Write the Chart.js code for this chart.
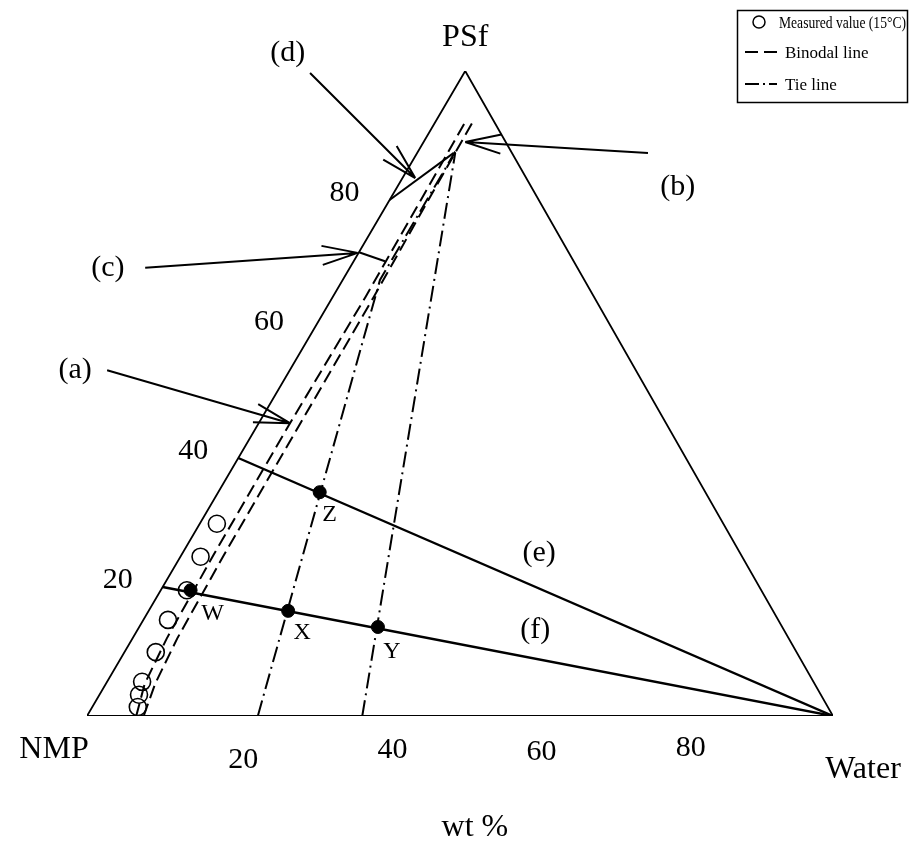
<!DOCTYPE html>
<html>
<head>
<meta charset="utf-8">
<script src="https://cdn.jsdelivr.net/npm/chart.js@4.4.1/dist/chart.umd.min.js"></script>
<style>
  body { margin: 0; background: #fff; }
</style>
</head>
<body>
<canvas id="myChart" width="912" height="842"></canvas>
<script>
// compositions in wt% : PSf and water, NMP is what is left
// the printed triangle leans a little to the right, so psf is skewed by this much
const SKEW = 0.507

const cornerPsf = [0, 0, 100, 0]
const cornerWater = [0, 100, 0, 0]

// open circles, measured at 15 C
const measuredPsf = [29.8, 24.7, 19.5, 14.9, 9.9, 5.3, 3.3, 1.4]
const measuredWater = [2.3, 2.7, 3.5, 3.3, 4.2, 4.7, 5.3, 6.1]

// the two dashed binodal lines
const binodalPsf = [0, 5, 12, 25, 45, 65, 80, 92.5]
const binodalInnerWater = [6.6, 5.2, 4.6, 4.3, 4.2, 4.4, 4.2, 4.0]
const binodalOuterWater = [7.6, 6.6, 6.0, 5.7, 5.6, 5.5, 5.2, 5.0]

// dash-dot tie lines
const tie1Psf = [0, 67.6, 87.5]
const tie1Water = [22.9, 5.0, 5.0]
const tie2Psf = [0, 87.3]
const tie2Water = [36.9, 5.1]

// solid composition lines (e), (f) and the short ones at (c), (d)
const linePsfE = [40, 0]
const lineWaterE = [0, 100]
const linePsfF = [20, 0]
const lineWaterF = [0, 100]
const linePsfC = [71.9, 70.5]
const lineWaterC = [0, 4.2]
const linePsfD = [80, 87.3]
const lineWaterD = [0, 4.9]

const pointNames = ['W', 'X', 'Y', 'Z']
const pointPsf = [19.5, 16.3, 13.8, 34.7]
const pointWater = [4.0, 18.7, 32.0, 13.6]

const tickValues = [20, 40, 60, 80]

function toXY(psf, water) {
    return psf.map((p, i) => ({ x: water[i] + SKEW * p, y: p }))
}

const FONT = '"Liberation Serif", "Times New Roman", serif'

// label / arrow placement, in plot units (x across, y = psf)
const notes = [
    { text: '(a)', at: [-1.6, 53.6], from: [2.7, 53.6], to: [27.2, 45.4] },
    { text: '(b)', at: [79.2, 82.0], from: [75.2, 87.3], to: [50.7, 89.0] },
    { text: '(c)', at: [2.8, 69.5], from: [7.8, 69.5], to: [36.3, 71.8] },
    { text: '(d)', at: [26.9, 102.8], from: [29.9, 99.7], to: [44.0, 83.4] },
    { text: '(e)', at: [60.6, 25.3] },
    { text: '(f)', at: [60.1, 13.3] }
]
const pointLabelOffsets = [[22, 23], [14, 22], [14, 25], [10, 23]]
const bottomTickDy = [44, 34, 36, 32]

function arrow(ctx, x1, y1, x2, y2) {
    const a = Math.atan2(y2 - y1, x2 - x1)
    ctx.beginPath()
    ctx.moveTo(x1, y1)
    ctx.lineTo(x2, y2)
    for (const s of [-1, 1]) {
        ctx.moveTo(x2, y2)
        ctx.lineTo(x2 - 37 * Math.cos(a + s * 0.26), y2 - 37 * Math.sin(a + s * 0.26))
    }
    ctx.stroke()
}

const ternaryLabels = {
    id: 'ternaryLabels',
    afterDatasetsDraw(chart) {
        const ctx = chart.ctx
        const xs = chart.scales.x
        const ys = chart.scales.y
        const px = (x) => xs.getPixelForValue(x)
        const py = (y) => ys.getPixelForValue(y)

        ctx.save()
        ctx.fillStyle = '#000'
        ctx.strokeStyle = '#000'
        ctx.textAlign = 'center'
        ctx.textBaseline = 'middle'

        // corner names
        ctx.font = '32px ' + FONT
        ctx.fillText('PSf', px(SKEW * 100), py(100) - 33)
        ctx.fillText('NMP', px(0) - 33, py(0) + 34)
        ctx.fillText('Water', px(100) + 30, py(0) + 54)
        ctx.fillText('wt %', px(52), py(0) + 112)

        // ticks along the PSf side and the water side
        ctx.font = '30px ' + FONT
        tickValues.forEach((v, i) => {
            ctx.fillText(String(v), px(SKEW * v) - 45, py(v) - 7)
            ctx.fillText(String(v), px(v) + 7, py(0) + bottomTickDy[i])
        })

        // (a)...(f) with arrows
        ctx.lineWidth = 2
        notes.forEach((n) => {
            ctx.fillText(n.text, px(n.at[0]), py(n.at[1]))
            if (n.from) {
                arrow(ctx, px(n.from[0]), py(n.from[1]), px(n.to[0]), py(n.to[1]))
            }
        })

        // W X Y Z
        ctx.font = '24px ' + FONT
        pointNames.forEach((name, i) => {
            const x = px(pointWater[i] + SKEW * pointPsf[i])
            const y = py(pointPsf[i])
            ctx.fillText(name, x + pointLabelOffsets[i][0], y + pointLabelOffsets[i][1])
        })

        // legend box
        ctx.lineWidth = 1.5
        ctx.strokeRect(737.5, 10.5, 170, 92)
        ctx.font = '17px ' + FONT
        ctx.textAlign = 'left'
        ctx.beginPath()
        ctx.arc(759, 22, 6, 0, Math.PI * 2)
        ctx.stroke()
        ctx.fillText('Measured value (15\u00B0C)', 779, 24, 127)
        ctx.lineWidth = 2
        ctx.setLineDash([13, 6])
        ctx.beginPath()
        ctx.moveTo(745, 52)
        ctx.lineTo(777, 52)
        ctx.stroke()
        ctx.fillText('Binodal line', 785, 54)
        ctx.setLineDash([14, 4, 2, 4])
        ctx.beginPath()
        ctx.moveTo(745, 84)
        ctx.lineTo(777, 84)
        ctx.stroke()
        ctx.fillText('Tie line', 785, 86)
        ctx.restore()
    }
}

function lineSet(data, width, dash) {
    return {
        data: data,
        showLine: true,
        borderColor: '#000',
        borderWidth: width,
        borderDash: dash || [],
        pointRadius: 0,
        fill: false,
        tension: 0
    }
}

const ctx = document.getElementById('myChart')
new Chart(ctx, {
    type: 'scatter',
    data: {
        datasets: [
            lineSet(toXY(cornerPsf, cornerWater), 1.8),
            lineSet(toXY(linePsfE, lineWaterE), 2.4),
            lineSet(toXY(linePsfF, lineWaterF), 2.4),
            lineSet(toXY(linePsfC, lineWaterC), 2),
            lineSet(toXY(linePsfD, lineWaterD), 2),
            lineSet(toXY(binodalPsf, binodalInnerWater), 2, [13, 6]),
            lineSet(toXY(binodalPsf, binodalOuterWater), 2, [13, 6]),
            lineSet(toXY(tie1Psf, tie1Water), 2, [16, 5, 2, 5]),
            lineSet(toXY(tie2Psf, tie2Water), 2, [16, 5, 2, 5]),
            {
                data: toXY(measuredPsf, measuredWater),
                pointRadius: 8.5,
                pointBackgroundColor: 'rgba(255,255,255,0)',
                pointBorderColor: '#000',
                pointBorderWidth: 1.6
            },
            {
                data: toXY(pointPsf, pointWater),
                pointRadius: 6.5,
                pointBackgroundColor: '#000',
                pointBorderColor: '#000',
                pointBorderWidth: 1
            }
        ]
    },
    options: {
        responsive: false,
        animation: false,
        events: [],
        layout: {
            padding: { left: 87, right: 79, top: 71, bottom: 126 }
        },
        scales: {
            x: { type: 'linear', min: 0, max: 100, display: false },
            y: { type: 'linear', min: 0, max: 100, display: false }
        },
        plugins: {
            legend: { display: false },
            tooltip: { enabled: false }
        }
    },
    plugins: [ternaryLabels]
})
</script>
</body>
</html>
